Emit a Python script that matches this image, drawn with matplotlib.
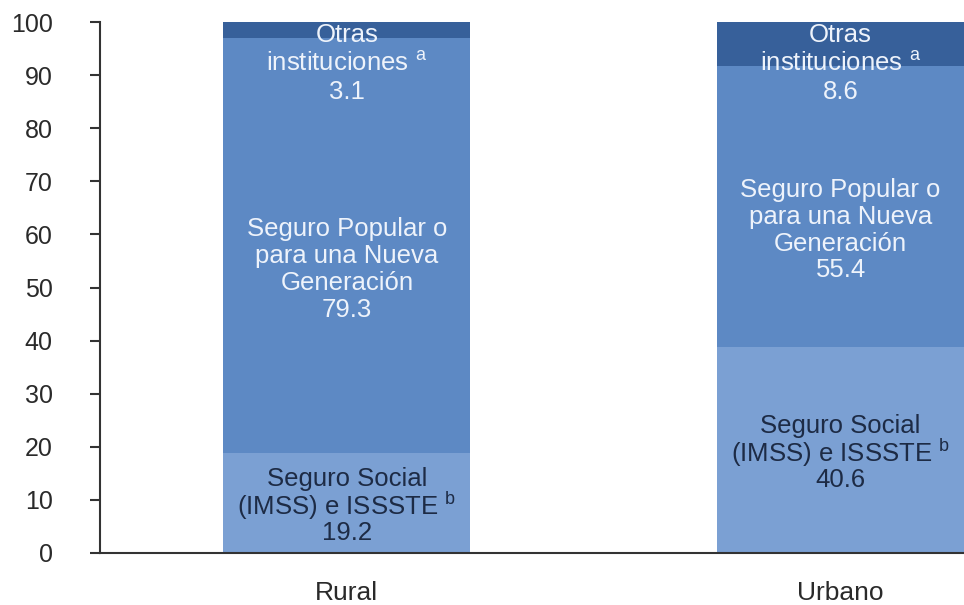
import matplotlib.pyplot as plt
import numpy as np

plt.rcParams['font.family'] = ['Liberation Sans', 'DejaVu Sans']

# reported shares (%) per institution; bars are drawn normalised to 100
areas = ['Rural', 'Urbano']
seguro_social = [19.2, 40.6]
seguro_popular = [79.3, 55.4]
otras = [3.1, 8.6]

lbl_social = 'Seguro Social\n(IMSS) e ISSSTE $^{\\mathregular{b}}$'
lbl_popular = 'Seguro Popular o\npara una Nueva\nGeneración'
lbl_otras = 'Otras\ninstituciones $^{\\mathregular{a}}$'

c_social = '#7ba0d3'
c_popular = '#5d89c4'
c_otras = '#37609a'

vals = np.array([seguro_social, seguro_popular, otras])
pct = vals / vals.sum(axis=0) * 100
x = np.arange(len(areas))

fig = plt.figure(figsize=(9.64, 6.05), dpi=100)
ax = fig.add_axes([100 / 964, 52 / 605, 864 / 964, 531 / 605])

w = 0.5
ax.bar(x, pct[0], w, color=c_social)
ax.bar(x, pct[1], w, bottom=pct[0], color=c_popular)
ax.bar(x, pct[2], w, bottom=pct[0] + pct[1], color=c_otras)

fs = 18.5
light = '#eef3fb'
dark = '#1d2b45'
for i in range(len(areas)):
    ax.text(x[i], pct[0][i] / 2 - 0.6, f'{lbl_social}\n{seguro_social[i]}',
            ha='center', va='center', fontsize=fs, color=dark, linespacing=0.95)
    mid = pct[0][i] + pct[1][i] / 2 - 4.5
    ax.text(x[i], mid, f'{lbl_popular}\n{seguro_popular[i]}',
            ha='center', va='center', fontsize=fs, color=light, linespacing=1.15)
    ax.text(x[i], 99.8, f'{lbl_otras}\n{otras[i]}',
            ha='center', va='top', fontsize=fs, color=light, linespacing=1.2)

ax.set_xlim(-0.5, 1.25)
ax.set_ylim(0, 100)
ax.set_yticks(np.arange(0, 101, 10))
ax.set_xticks(x)
ax.set_xticklabels(areas)

for s in ['top', 'right']:
    ax.spines[s].set_visible(False)
for s in ['left', 'bottom']:
    ax.spines[s].set_color('#333333')
    ax.spines[s].set_linewidth(1.5)

ax.tick_params(axis='y', direction='out', length=7, width=1.5, color='#333333',
               labelsize=18, labelcolor='#2a2a2a', pad=27)
ax.tick_params(axis='x', length=0, labelsize=19, labelcolor='#2a2a2a', pad=20)

fig.savefig('out.png', dpi=100)
